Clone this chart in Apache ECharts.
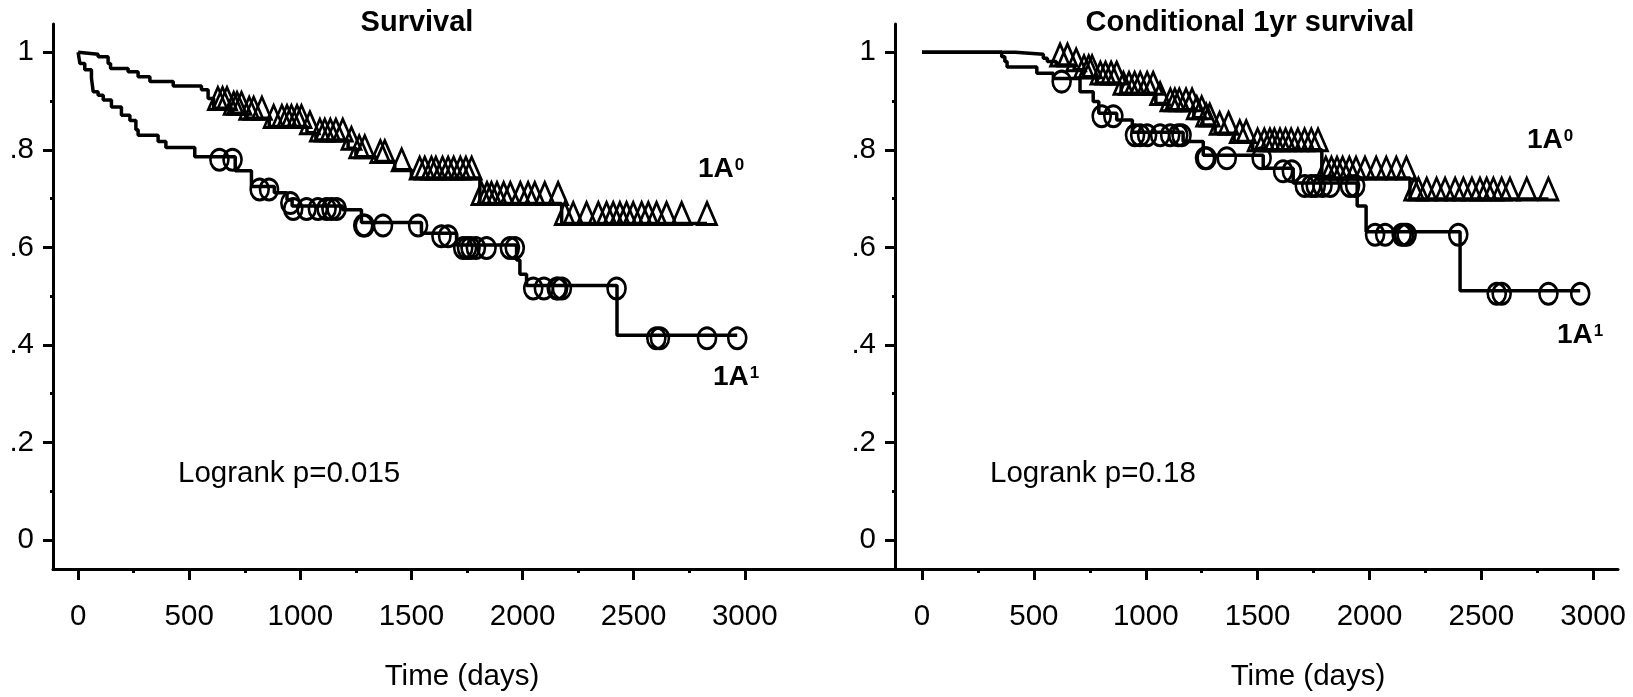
<!DOCTYPE html>
<html><head><meta charset="utf-8">
<script src="https://cdn.jsdelivr.net/npm/echarts@6/dist/echarts.min.js"></script>
<style>html,body{margin:0;padding:0;background:#fff}#c{width:1633px;height:697px}</style>
</head><body><div id="c"></div>
<script>
// ---- ticks & texts ----
const xTicks = [0, 500, 1000, 1500, 2000, 2500, 3000];
const xTickLabels = ['0', '500', '1000', '1500', '2000', '2500', '3000'];
const xMinorTicks = [250, 750, 1250, 1750, 2250, 2750];
const yTicks = [0, 0.2, 0.4, 0.6, 0.8, 1];
const yTickLabels = ['0', '.2', '.4', '.6', '.8', '1'];
const yMinorTicks = [0.1, 0.3, 0.5, 0.7, 0.9];
const panelTitles = ['Survival', 'Conditional 1yr survival'];
const pLabels = ['Logrank p=0.015', 'Logrank p=0.18'];
const xName = 'Time (days)';
const groupBase = '1A';
const groupSup = ['0', '1'];

// ---- Left panel: Survival ----
const survA0Steps = [[0,1],[8,0.996],[90,0.991],[135,0.977],[146,0.967],[225,0.960],[270,0.950],[323,0.940],[428,0.931],[555,0.923],[585,0.905],[610,0.885],[690,0.875],[760,0.865],[860,0.848],[1030,0.835],[1070,0.820],[1215,0.803],[1250,0.786],[1340,0.776],[1425,0.759],[1500,0.742],[1808,0.690],[2176,0.649],[2830,0.649]];
const survA0Censor = [[629,0.885],[650,0.885],[670,0.885],[700,0.875],[715,0.875],[735,0.875],[770,0.865],[790,0.865],[827,0.865],[880,0.848],[917,0.848],[940,0.848],[960,0.848],[985,0.848],[1005,0.848],[1043,0.835],[1088,0.820],[1110,0.820],[1135,0.820],[1160,0.820],[1191,0.820],[1230,0.803],[1265,0.786],[1290,0.786],[1360,0.776],[1380,0.776],[1456,0.759],[1537,0.742],[1560,0.742],[1590,0.742],[1610,0.742],[1640,0.742],[1665,0.742],[1690,0.742],[1720,0.742],[1745,0.742],[1771,0.742],[1815,0.690],[1840,0.690],[1860,0.690],[1885,0.690],[1915,0.690],[1945,0.690],[1990,0.690],[2025,0.690],[2055,0.690],[2100,0.690],[2160,0.690],[2190,0.649],[2228,0.649],[2288,0.649],[2341,0.649],[2378,0.649],[2408,0.649],[2438,0.649],[2468,0.649],[2498,0.649],[2536,0.649],[2566,0.649],[2603,0.649],[2648,0.649],[2716,0.649],[2830,0.649]];
const survA1Steps = [[0,1],[8,0.977],[30,0.964],[60,0.947],[68,0.919],[90,0.912],[113,0.902],[150,0.888],[195,0.871],[233,0.860],[260,0.841],[270,0.830],[360,0.817],[395,0.805],[525,0.786],[707,0.757],[780,0.725],[883,0.712],[940,0.697],[963,0.685],[1190,0.677],[1275,0.651],[1545,0.629],[1703,0.605],[1973,0.574],[1988,0.545],[2018,0.522],[2425,0.420],[2966,0.420]];
const survA1Censor = [[636,0.786],[695,0.786],[817,0.725],[859,0.725],[955,0.697],[968,0.685],[1028,0.685],[1079,0.685],[1118,0.685],[1140,0.685],[1163,0.685],[1283,0.651],[1290,0.651],[1372,0.651],[1530,0.651],[1635,0.629],[1665,0.629],[1733,0.605],[1750,0.605],[1766,0.605],[1790,0.605],[1838,0.605],[1943,0.605],[1965,0.605],[2048,0.522],[2096,0.522],[2154,0.522],[2160,0.522],[2177,0.522],[2423,0.522],[2602,0.420],[2618,0.420],[2830,0.420],[2966,0.420]];

// ---- Right panel: Conditional 1yr survival ----
const condA0Steps = [[0,1],[416,0.996],[542,0.988],[560,0.981],[600,0.974],[680,0.964],[720,0.950],[780,0.937],[890,0.916],[1045,0.895],[1100,0.882],[1215,0.866],[1255,0.851],[1310,0.834],[1395,0.817],[1478,0.800],[1787,0.742],[2181,0.699],[2800,0.699]];
const condA0Censor = [[617,0.974],[650,0.974],[689,0.964],[724,0.950],[745,0.950],[760,0.950],[797,0.937],[820,0.937],[845,0.937],[870,0.937],[900,0.916],[925,0.916],[950,0.916],[975,0.916],[1006,0.916],[1033,0.916],[1064,0.895],[1110,0.882],[1130,0.882],[1150,0.882],[1180,0.882],[1207,0.882],[1228,0.866],[1250,0.866],[1270,0.851],[1286,0.851],[1330,0.834],[1370,0.834],[1420,0.817],[1449,0.817],[1500,0.800],[1530,0.800],[1555,0.800],[1575,0.800],[1600,0.800],[1625,0.800],[1650,0.800],[1680,0.800],[1710,0.800],[1740,0.800],[1770,0.800],[1805,0.742],[1830,0.742],[1855,0.742],[1880,0.742],[1910,0.742],[1940,0.742],[1980,0.742],[2030,0.742],[2075,0.742],[2120,0.742],[2165,0.742],[2200,0.699],[2219,0.699],[2256,0.699],[2300,0.699],[2338,0.699],[2383,0.699],[2420,0.699],[2458,0.699],[2494,0.699],[2524,0.699],[2554,0.699],[2591,0.699],[2628,0.699],[2703,0.699],[2800,0.699]];
const condA1Steps = [[0,1],[356,0.991],[370,0.981],[380,0.970],[513,0.957],[587,0.946],[706,0.919],[765,0.899],[790,0.875],[870,0.861],[940,0.836],[1167,0.817],[1257,0.789],[1525,0.762],[1659,0.732],[1945,0.685],[1985,0.632],[2405,0.511],[2942,0.511]];
const condA1Censor = [[624,0.946],[803,0.875],[855,0.875],[952,0.836],[975,0.836],[1006,0.836],[1064,0.836],[1109,0.836],[1145,0.836],[1160,0.836],[1265,0.789],[1272,0.789],[1362,0.789],[1518,0.789],[1614,0.762],[1653,0.762],[1711,0.732],[1740,0.732],[1760,0.732],[1790,0.732],[1824,0.732],[1913,0.732],[1936,0.732],[2025,0.632],[2070,0.632],[2144,0.632],[2155,0.632],[2166,0.632],[2397,0.632],[2569,0.511],[2591,0.511],[2800,0.511],[2942,0.511]];

// ---- chart ----
const FONT = '"Liberation Sans", Arial, Helvetica, sans-serif';
const chart = echarts.init(document.getElementById('c'), null, {renderer: 'canvas'});

const grids = [
  {left: 53, top: 24, width: 842, height: 545},
  {left: 895, top: 24, width: 723, height: 545}
];
const xRanges = [[-113, 3676], [-121, 3111]];
const yRange = [-0.0595, 1.058];
const LBL = 29.5;

function lookup(ticks, labels) {
  return v => { const i = ticks.findIndex(t => Math.abs(t - v) < 1e-6); return i >= 0 ? labels[i] : ''; };
}

const xAxes = [], yAxes = [];
grids.forEach((g, gi) => {
  xAxes.push({
    type: 'value', gridIndex: gi, position: 'bottom', min: xRanges[gi][0], max: xRanges[gi][1],
    axisLine: {show: true, onZero: false, lineStyle: {color: '#000', width: 3}},
    axisTick: {show: true, customValues: xTicks, length: 11, lineStyle: {color: '#000', width: 3}},
    axisLabel: {show: true, customValues: xTicks, margin: 33, fontSize: LBL, color: '#000', fontFamily: FONT,
      formatter: lookup(xTicks, xTickLabels)},
    splitLine: {show: false}
  });
  xAxes.push({
    type: 'value', gridIndex: gi, position: 'bottom', min: xRanges[gi][0], max: xRanges[gi][1],
    axisLine: {show: false, onZero: false},
    axisTick: {show: true, customValues: xMinorTicks, length: 4, lineStyle: {color: '#000', width: 3}},
    axisLabel: {show: false}, splitLine: {show: false}
  });
  yAxes.push({
    type: 'value', gridIndex: gi, position: 'left', min: yRange[0], max: yRange[1],
    axisLine: {show: true, onZero: false, lineStyle: {color: '#000', width: 3}},
    axisTick: {show: true, customValues: yTicks, length: 10, lineStyle: {color: '#000', width: 3}},
    axisLabel: {show: true, customValues: yTicks, margin: 19, fontSize: LBL, color: '#000', fontFamily: FONT,
      formatter: lookup(yTicks, yTickLabels)},
    splitLine: {show: false}
  });
  yAxes.push({
    type: 'value', gridIndex: gi, position: 'left', min: yRange[0], max: yRange[1],
    axisLine: {show: false, onZero: false},
    axisTick: {show: true, customValues: yMinorTicks, length: 3, lineStyle: {color: '#000', width: 3}},
    axisLabel: {show: false}, splitLine: {show: false}
  });
});

function stepSeries(data, gi) {
  return {type: 'line', step: 'end', xAxisIndex: gi * 2, yAxisIndex: gi * 2, data: data,
    symbol: 'none', showSymbol: false, lineStyle: {color: '#000', width: 3.5}, z: 3, silent: true};
}
const markerStyle = {color: 'rgba(255,255,255,0)', borderColor: '#000', borderWidth: 2.8, opacity: 1};
function triSeries(data, gi) {
  return {type: 'scatter', xAxisIndex: gi * 2, yAxisIndex: gi * 2, data: data,
    symbol: 'triangle', symbolSize: [19, 22], symbolOffset: [0, -10],
    itemStyle: markerStyle, z: 4, silent: true};
}
function circSeries(data, gi) {
  return {type: 'scatter', xAxisIndex: gi * 2, yAxisIndex: gi * 2, data: data,
    symbol: 'circle', symbolSize: [18, 21], symbolOffset: [0, 3],
    itemStyle: markerStyle, z: 4, silent: true};
}

function txt(text, x, y, font, align) {
  return {type: 'text', x: x, y: y, z: 10, silent: true,
    style: {text: text, font: font, fill: '#000', textAlign: align, align: align,
      textVerticalAlign: 'middle', verticalAlign: 'middle'}};
}
function groupLabel(sup, x, y) {
  return {type: 'text', x: x, y: y, z: 10, silent: true,
    style: {text: '{b|' + groupBase + '}{s|' + sup + '}', fill: '#000', align: 'left', textAlign: 'left',
      verticalAlign: 'middle', textVerticalAlign: 'middle',
      rich: {
        b: {fontSize: 28, fontWeight: 'bold', fontFamily: FONT, lineHeight: 30, fill: '#000', color: '#000'},
        s: {fontSize: 17, fontWeight: 'bold', fontFamily: FONT, lineHeight: 17, verticalAlign: 'top', padding: [3, 0, 0, 1], fill: '#000', color: '#000'}
      }}};
}

const boldFont = 'bold 29px ' + FONT;
const normFont = LBL + 'px ' + FONT;

chart.setOption({
  animation: false,
  backgroundColor: '#fff',
  grid: grids,
  xAxis: xAxes,
  yAxis: yAxes,
  series: [
    stepSeries(survA0Steps, 0), stepSeries(survA1Steps, 0),
    triSeries(survA0Censor, 0), circSeries(survA1Censor, 0),
    stepSeries(condA0Steps, 1), stepSeries(condA1Steps, 1),
    triSeries(condA0Censor, 1), circSeries(condA1Censor, 1)
  ],
  graphic: [
    txt(panelTitles[0], 417, 23, boldFont, 'center'),
    txt(panelTitles[1], 1250, 23, boldFont, 'center'),
    txt(xName, 462, 677, normFont, 'center'),
    txt(xName, 1308, 677, normFont, 'center'),
    txt(pLabels[0], 178, 474, normFont, 'left'),
    txt(pLabels[1], 990, 474, normFont, 'left'),
    groupLabel(groupSup[0], 698, 169),
    groupLabel(groupSup[1], 713, 377),
    groupLabel(groupSup[0], 1527, 140),
    groupLabel(groupSup[1], 1557, 335)
  ]
});
</script>
</body></html>
